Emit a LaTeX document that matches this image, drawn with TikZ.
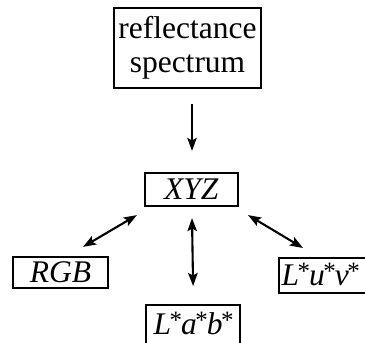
\documentclass[tikz,border=0pt]{standalone}
\usepackage{fontspec}
\setmainfont{Liberation Serif}
\usetikzlibrary{arrows.meta,calc}
\newcommand\supast{\kern-1.5pt\raisebox{5.5pt}{\fontsize{25}{25}\selectfont *}\kern-1pt}
\begin{document}
\begin{tikzpicture}[x=1pt,y=-1pt,
  box/.style={draw, line width=2.2pt, inner sep=0pt, font=\fontsize{31.5}{34}\selectfont, align=center},
  conn/.style={line width=2.1pt, -{Stealth[length=13pt,width=9.5pt,inset=2.5pt]}},
  biconn/.style={line width=2.1pt, {Stealth[length=13pt,width=9.5pt,inset=2.5pt]}-{Stealth[length=13pt,width=9.5pt,inset=2.5pt]}}]
\clip (0,0) rectangle (365,343);
\node[box, minimum width=147pt, minimum height=80pt] (spec) at (187.5,48) {reflectance\\spectrum};
\node[box, minimum width=93pt, minimum height=33pt] (xyz) at (191.5,189.5) {\textit{XYZ}};
\node[box, minimum width=95pt, minimum height=31pt] (rgb) at (60.5,272.5) {\textit{RGB}};
\node[box, anchor=north west, text width=94pt, align=left, inner xsep=2.5pt, inner ysep=4pt,
      text height=23pt, text depth=4pt] (luv) at (278,257)
      {\textit{L}\supast\textit{u}\supast\textit{v}\supast};
\node[box, anchor=north west, minimum width=94pt, inner ysep=5pt,
      text height=24pt, text depth=20pt] (lab) at (145,304)
      {\textit{L}\supast\textit{a}\supast\textit{b}\supast};
\draw[conn] ($(spec.south)+(4.5,15)$) -- ($(xyz.north)+(0.5,-21)$);
\draw[biconn] ($(rgb.north)+(22.5,-9)$) -- ($(xyz.south west)+(-7,8)$);
\draw[biconn] ($(xyz.south)+(0.5,11)$) -- ($(lab.north)+(0,-18)$);
\draw[biconn] ($(xyz.south east)+(9,8)$) -- ($(luv.north west)+(25,-9)$);
\end{tikzpicture}
\end{document}
